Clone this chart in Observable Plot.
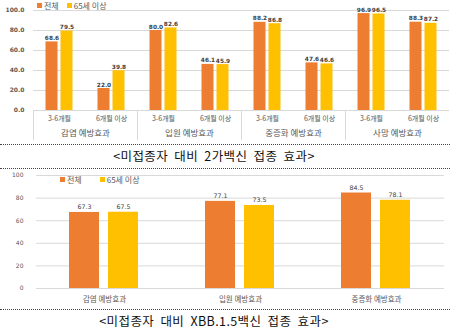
<!DOCTYPE html>
<html><head><meta charset="utf-8">
<script src="https://cdn.jsdelivr.net/npm/d3@7"></script>
<script src="https://cdn.jsdelivr.net/npm/@observablehq/plot@0.6"></script>
<style>
body{margin:0;width:450px;height:331px;overflow:hidden;background:#fff;font-family:"Noto Sans CJK KR",sans-serif;position:relative}
.abs{position:absolute;left:0}
.dot{position:absolute;left:0;width:450px;height:0;border-top:1px dotted #444}
.cap{position:absolute;left:0;width:428px;text-align:center;font-size:12.5px;line-height:13px;color:#111;letter-spacing:0.4px;word-spacing:3px}
.legend{position:absolute;font-size:8px;line-height:9px;color:#595959;display:flex;align-items:center;white-space:nowrap}
.legend span.item{display:flex;align-items:center;margin-right:8px}
.sw{display:inline-block;width:5px;height:5px;margin-right:2px}
</style></head>
<body>
<div id="c1" class="abs" style="top:0"></div>
<div id="lg1" class="legend" style="top:1px;left:37px"></div>
<div class="dot" style="top:144px"></div>
<div id="cap1" class="cap" style="top:148.5px"></div>
<div class="dot" style="top:168px"></div>
<div id="c2" class="abs" style="top:169px"></div>
<div id="lg2" class="legend" style="top:175px;left:60px"></div>
<div class="dot" style="top:309px"></div>
<div id="cap2" class="cap" style="top:313.5px"></div>
<script>
// shared series
const series = ["전체", "65세 이상"];
const colors = ["#ED7D31", "#FFC000"];

// chart 1 : 2가백신
const groups1 = ["감염 예방효과", "입원 예방효과", "중증화 예방효과", "사망 예방효과"];
const periods1 = ["3-6개월", "6개월 이상"];
const all1 = [68.6, 22.0, 80.0, 46.1, 88.2, 47.6, 96.9, 88.3];
const older1 = [79.5, 39.8, 82.6, 45.9, 86.8, 46.6, 96.5, 87.2];
const yTicks1 = [0, 20, 40, 60, 80, 100];
const caption1 = "<미접종자 대비 2가백신 접종 효과>";

// chart 2 : XBB.1.5백신
const groups2 = ["감염 예방효과", "입원 예방효과", "중증화 예방효과"];
const all2 = [67.3, 77.1, 84.5];
const older2 = [67.5, 73.5, 78.1];
const yTicks2 = [0, 20, 40, 60, 80, 100];
const caption2 = "<미접종자 대비 XBB.1.5백신 접종 효과>";

const FONT = "'Noto Sans CJK KR', sans-serif";
const NUMFONT = "'DejaVu Sans', sans-serif";

const rows1 = [];
groups1.forEach((g, gi) => periods1.forEach((p, pi) => {
  const k = gi * periods1.length + pi;
  rows1.push({group: g, period: p, series: series[0], value: all1[k]});
  rows1.push({group: g, period: p, series: series[1], value: older1[k]});
}));
const rows2 = [];
groups2.forEach((g, i) => {
  rows2.push({group: g, series: series[0], value: all2[i]});
  rows2.push({group: g, series: series[1], value: older2[i]});
});

const s0 = rows1.filter(d => d.series === series[0]);
const s1 = rows1.filter(d => d.series === series[1]);

const c1 = Plot.plot({
  width: 450, height: 144,
  marginLeft: 32, marginRight: 0, marginTop: 10, marginBottom: 34,
  style: {fontFamily: FONT, color: "#595959", background: "transparent", overflow: "visible"},
  fx: {domain: groups1, padding: 0, label: null},
  x: {domain: periods1, padding: 0, label: null},
  y: {domain: [0, 100], label: null},
  color: {domain: series, range: colors},
  marks: [
    Plot.gridY(yTicks1, {stroke: "#d9d9d9", strokeOpacity: 1}),
    Plot.frame({anchor: "left", stroke: "#d9d9d9", strokeOpacity: 1, insetTop: 100, insetBottom: -29}),
    Plot.axisY(yTicks1, {tickSize: 0, tickPadding: 9, tickFormat: d => d.toFixed(1), fontSize: 6, fontWeight: "bold", fontFamily: NUMFONT, label: null}),
    Plot.axisX({tickSize: 0, tickPadding: 6, fontSize: 7, label: null}),
    Plot.axisFx({anchor: "bottom", tickSize: 0, tickPadding: 19, fontSize: 8.5, label: null}),
    Plot.barY(s0, {fx: "group", x: "period", y: "value", fill: "series", insetLeft: 20, insetRight: 20, dx: -7.5}),
    Plot.barY(s1, {fx: "group", x: "period", y: "value", fill: "series", insetLeft: 20, insetRight: 20, dx: 7.5}),
    Plot.text(s0, {fx: "group", x: "period", y: "value", text: d => d.value.toFixed(1), dx: -7.5, dy: -2, lineAnchor: "bottom", fontSize: 5.8, fontWeight: "bold", fontFamily: NUMFONT, fill: "#404040"}),
    Plot.text(s1, {fx: "group", x: "period", y: "value", text: d => d.value.toFixed(1), dx: 7.5, dy: -2, lineAnchor: "bottom", fontSize: 5.8, fontWeight: "bold", fontFamily: NUMFONT, fill: "#404040"})
  ]
});
document.getElementById("c1").append(c1);

const c2 = Plot.plot({
  width: 450, height: 140,
  marginLeft: 35, marginRight: 5, marginTop: 6, marginBottom: 21,
  style: {fontFamily: FONT, color: "#595959", background: "transparent", overflow: "visible"},
  fx: {domain: groups2, padding: 0, label: null},
  x: {domain: series, paddingInner: 0.225, paddingOuter: 0.825, axis: null, label: null},
  y: {domain: [0, 100], label: null},
  color: {domain: series, range: colors},
  marks: [
    Plot.gridY(yTicks2, {stroke: "#d9d9d9", strokeOpacity: 1}),
    Plot.axisY(yTicks2, {tickSize: 0, tickPadding: 13, fontSize: 6, fontFamily: NUMFONT, label: null}),
    Plot.axisFx({anchor: "bottom", tickSize: 0, tickPadding: 8, fontSize: 7.5, label: null}),
    Plot.barY(rows2, {fx: "group", x: "series", y: "value", fill: "series"}),
    Plot.text(rows2, {fx: "group", x: "series", y: "value", text: d => d.value.toFixed(1), dy: -3, lineAnchor: "bottom", fontSize: 6.3, fontFamily: NUMFONT, fill: "#404040"})
  ]
});
document.getElementById("c2").append(c2);

function legend(el) {
  series.forEach((s, i) => {
    const it = document.createElement("span");
    it.className = "item";
    const sw = document.createElement("span");
    sw.className = "sw";
    sw.style.background = colors[i];
    it.append(sw, document.createTextNode(s));
    el.append(it);
  });
}
legend(document.getElementById("lg1"));
legend(document.getElementById("lg2"));
document.getElementById("lg2").children[0].style.marginRight = "18px";
document.getElementById("cap1").textContent = caption1;
document.getElementById("cap2").textContent = caption2;
</script>
</body></html>
